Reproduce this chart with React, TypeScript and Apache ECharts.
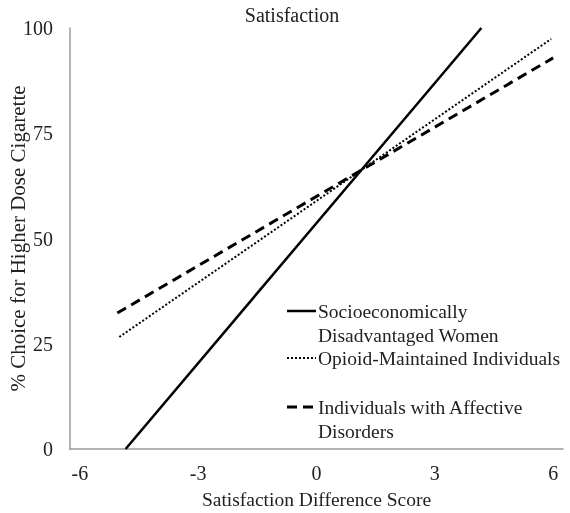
import React, { useEffect, useRef } from "react";
import * as echarts from "echarts";

const xTicks = [-6, -3, 0, 3, 6];
const yTicks = [0, 25, 50, 75, 100];

const womenX = [-4.84, 4.18];
const womenY = [0, 100];
const opioidX = [-5.0, 5.95];
const opioidY = [26.6, 97.4];
const affectiveX = [-5.05, 6.0];
const affectiveY = [32.3, 92.9];

const seriesNames = [
  "Socioeconomically\nDisadvantaged Women",
  "Opioid-Maintained Individuals",
  "Individuals with Affective\nDisorders",
];

const FONT = "Liberation Serif";
const TXT = "#222";

function pairs(xs: number[], ys: number[]) {
  return xs.map((x, i) => [x, ys[i]]);
}

export default function App() {
  const ref = useRef<HTMLDivElement>(null);
  useEffect(() => {
    if (!ref.current) return;
    const chart = echarts.init(ref.current, undefined, { renderer: "svg" });
    const dashTypes: any[] = ["solid", [2, 2], [10, 6]];
    const widths = [2.5, 2, 3];
    const legendYs = [311, 358, 407];
    const legendGraphics: any[] = [];
    seriesNames.forEach((n, i) => {
      legendGraphics.push({
        type: "line",
        shape: { x1: 287, y1: legendYs[i], x2: 316, y2: legendYs[i] },
        style: { stroke: "#000", lineWidth: widths[i], lineDash: dashTypes[i] === "solid" ? null : dashTypes[i] },
      });
      legendGraphics.push({
        type: "text",
        x: 318,
        y: legendYs[i] - 12,
        style: {
          text: n,
          font: `19.5px "${FONT}"`,
          fill: TXT,
          lineHeight: 24,
          textVerticalAlign: "top",
        },
      });
    });
    chart.setOption({
      animation: false,
      title: {
        text: "Satisfaction",
        left: 287,
        textAlign: "center",
        top: 0,
        textStyle: { fontFamily: FONT, fontSize: 20, fontWeight: "normal", color: TXT },
      },
      grid: { left: 70, right: 7, top: 28, bottom: 64, containLabel: false, outerBoundsMode: "none" },
      xAxis: {
        type: "value",
        min: -6.25,
        max: 6.25,
        name: "Satisfaction Difference Score",
        nameLocation: "middle",
        nameGap: 40,
        nameMoveOverlap: false,
        nameTextStyle: { fontFamily: FONT, fontSize: 19.5, color: TXT },
        axisLine: { show: true, onZero: false, lineStyle: { color: "#9a9a9a", width: 1.5 } },
        axisTick: { show: false },
        splitLine: { show: false },
        axisLabel: {
          customValues: xTicks,
          margin: 14,
          fontFamily: FONT,
          fontSize: 20,
          color: TXT,
        },
      },
      yAxis: {
        type: "value",
        min: 0,
        max: 100,
        interval: 25,
        name: "% Choice for Higher Dose Cigarette",
        nameLocation: "middle",
        nameGap: 42,
        nameMoveOverlap: false,
        nameTextStyle: { fontFamily: FONT, fontSize: 21, color: TXT },
        axisLine: { show: true, onZero: false, lineStyle: { color: "#9a9a9a", width: 1.5 } },
        axisTick: { show: false },
        splitLine: { show: false },
        axisLabel: {
          customValues: yTicks,
          margin: 17,
          fontFamily: FONT,
          fontSize: 20,
          color: TXT,
        },
      },
      series: [
        { name: seriesNames[0], type: "line", data: pairs(womenX, womenY), symbol: "none", lineStyle: { color: "#000", width: widths[0], type: "solid" } },
        { name: seriesNames[1], type: "line", data: pairs(opioidX, opioidY), symbol: "none", lineStyle: { color: "#000", width: widths[1], type: [2, 2] } },
        { name: seriesNames[2], type: "line", data: pairs(affectiveX, affectiveY), symbol: "none", lineStyle: { color: "#000", width: widths[2], type: [10, 6] } },
      ],
      graphic: legendGraphics,
    });
    return () => chart.dispose();
  }, []);
  return <div ref={ref} style={{ position: "fixed", left: 0, top: 0, width: 570, height: 513 }} />;
}
